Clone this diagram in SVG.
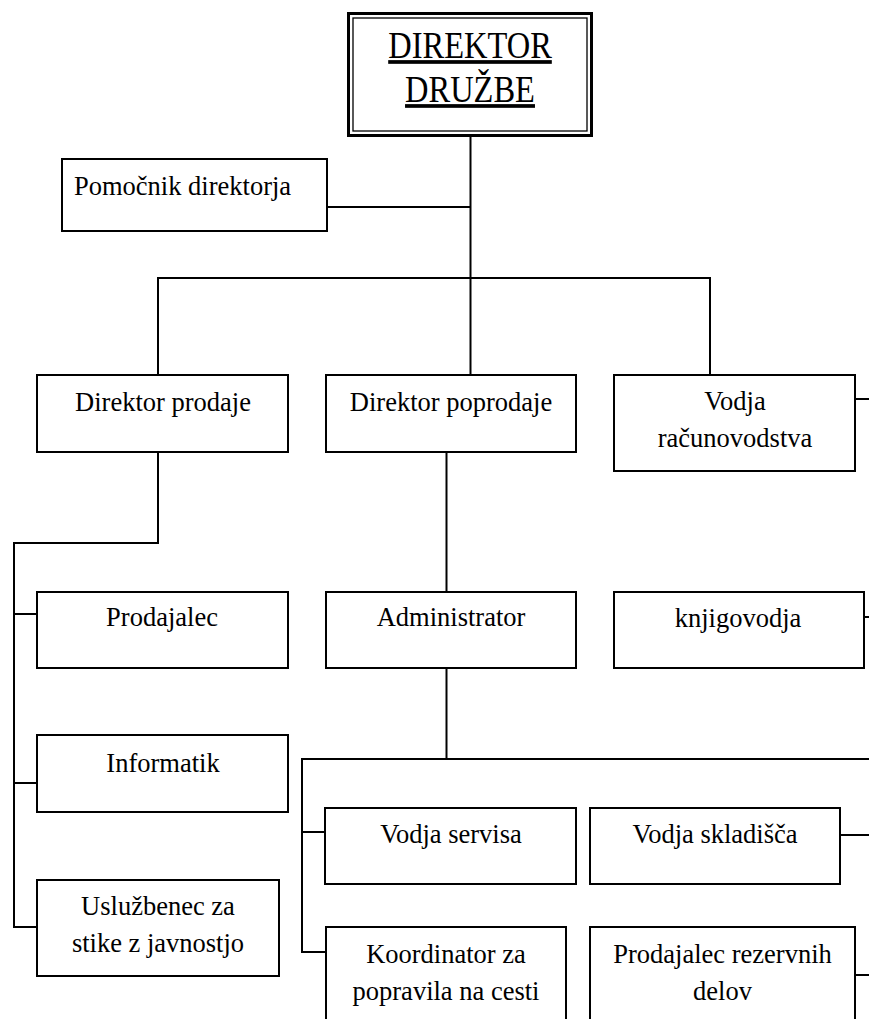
<svg xmlns="http://www.w3.org/2000/svg" width="869" height="1019" viewBox="0 0 869 1019">
  <style>
    .box { fill: #ffffff; stroke: #000000; stroke-width: 2; }
    .wire { fill: none; stroke: #000000; stroke-width: 2; }
    .lbl { font-family: "Liberation Serif", "Times New Roman", serif; font-size: 26.5px; fill: #000000; text-anchor: middle; }
    .title { font-family: "Liberation Serif", "Times New Roman", serif; font-size: 32.5px; fill: #000000; text-anchor: middle; text-decoration: underline; }
  </style>
  <rect width="869" height="1019" fill="#ffffff"/>

  <!-- connectors -->
  <g id="connectors" class="wire">
    <!-- director trunk -->
    <line x1="470.5" y1="136" x2="470.5" y2="375"/>
    <line x1="327" y1="207" x2="470.5" y2="207"/>
    <polyline points="158,375 158,278 710,278 710,375"/>
    <!-- sales branch -->
    <polyline points="158,452 158,543 14,543 14,927 37,927"/>
    <line x1="14" y1="614" x2="37" y2="614"/>
    <line x1="14" y1="783" x2="37" y2="783"/>
    <!-- after-sales branch -->
    <line x1="446.5" y1="452" x2="446.5" y2="592"/>
    <line x1="446.5" y1="668" x2="446.5" y2="759"/>
    <polyline points="869,759 302,759 302,952 326,952"/>
    <line x1="302" y1="832" x2="325" y2="832"/>
    <!-- stubs leaving to the right -->
    <line x1="855" y1="399" x2="869" y2="399"/>
    <line x1="864" y1="617" x2="869" y2="617"/>
    <line x1="840" y1="835" x2="869" y2="835"/>
    <line x1="855" y1="975" x2="869" y2="975"/>
  </g>

  <!-- top node with double frame -->
  <g id="direktor-druzbe">
    <rect x="348.5" y="13.5" width="243" height="122" fill="#ffffff" stroke="#000000" stroke-width="3"/>
    <rect x="353" y="18" width="234" height="113" fill="none" stroke="#000000" stroke-width="1.3"/>
    <text class="title" transform="translate(470 58) scale(1 1.14)">DIREKTOR</text>
    <text class="title" transform="translate(470 102) scale(1 1.14)">DRUŽBE</text>
  </g>

  <g id="pomocnik">
    <rect class="box" x="62" y="159" width="265" height="72"/>
    <text class="lbl" x="74" y="195" style="text-anchor:start">Pomočnik direktorja</text>
  </g>

  <g id="direktor-prodaje">
    <rect class="box" x="37" y="375" width="251" height="77"/>
    <text class="lbl" x="163" y="411">Direktor prodaje</text>
  </g>

  <g id="direktor-poprodaje">
    <rect class="box" x="326" y="375" width="250" height="77"/>
    <text class="lbl" x="451" y="411">Direktor poprodaje</text>
  </g>

  <g id="vodja-racunovodstva">
    <rect class="box" x="614" y="375" width="241" height="96"/>
    <text class="lbl" x="735" y="410">Vodja</text>
    <text class="lbl" x="735" y="447">računovodstva</text>
  </g>

  <g id="prodajalec">
    <rect class="box" x="37" y="592" width="251" height="76"/>
    <text class="lbl" x="162" y="626">Prodajalec</text>
  </g>

  <g id="administrator">
    <rect class="box" x="326" y="592" width="250" height="76"/>
    <text class="lbl" x="451" y="626">Administrator</text>
  </g>

  <g id="knjigovodja">
    <rect class="box" x="614" y="592" width="250" height="76"/>
    <text class="lbl" x="738" y="627">knjigovodja</text>
  </g>

  <g id="informatik">
    <rect class="box" x="37" y="735" width="251" height="77"/>
    <text class="lbl" x="163" y="772">Informatik</text>
  </g>

  <g id="usluzbenec">
    <rect class="box" x="37" y="880" width="242" height="96"/>
    <text class="lbl" x="158" y="915">Uslužbenec za</text>
    <text class="lbl" x="158" y="952">stike z javnostjo</text>
  </g>

  <g id="vodja-servisa">
    <rect class="box" x="325" y="808" width="251" height="76"/>
    <text class="lbl" x="451" y="843">Vodja servisa</text>
  </g>

  <g id="vodja-skladisca">
    <rect class="box" x="590" y="808" width="250" height="76"/>
    <text class="lbl" x="715" y="843">Vodja skladišča</text>
  </g>

  <g id="koordinator">
    <rect class="box" x="326" y="927" width="240" height="110"/>
    <text class="lbl" x="446" y="963">Koordinator za</text>
    <text class="lbl" x="446" y="1000">popravila na cesti</text>
  </g>

  <g id="prodajalec-delov">
    <rect class="box" x="590" y="927" width="265" height="110"/>
    <text class="lbl" x="722.5" y="963">Prodajalec rezervnih</text>
    <text class="lbl" x="722.5" y="1000">delov</text>
  </g>
</svg>
